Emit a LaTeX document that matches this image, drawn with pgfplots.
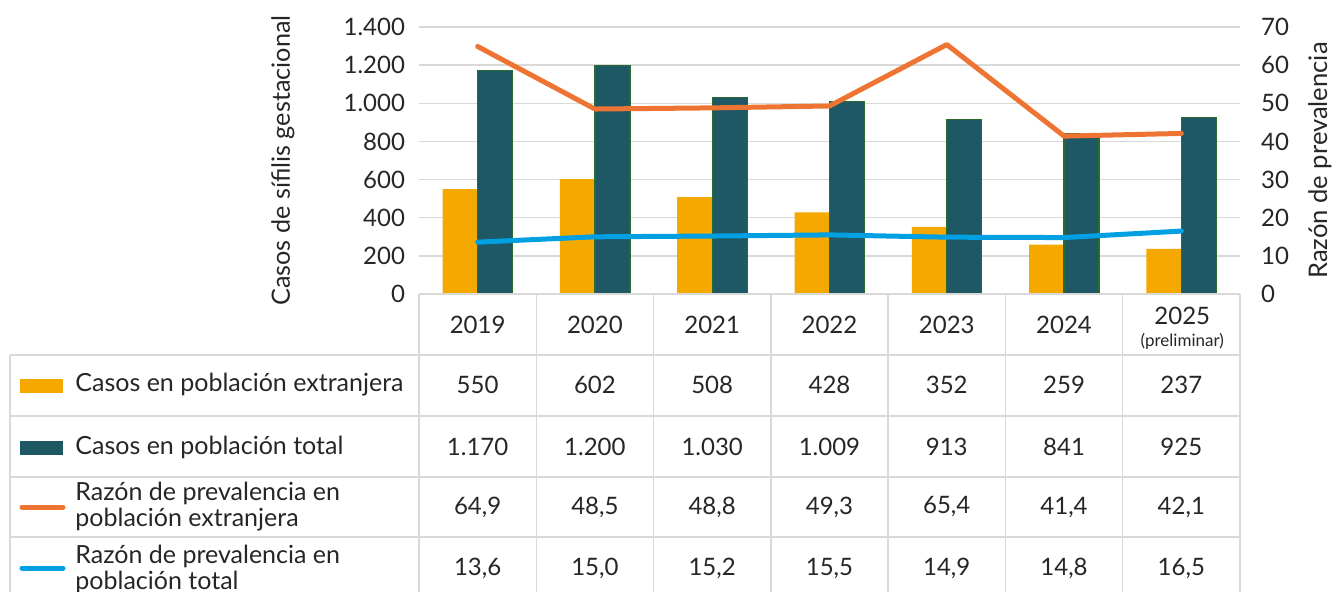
\documentclass[border=0pt]{standalone}
\usepackage{pgfplots}
\pgfplotsset{compat=1.18}
\usepackage{fontspec}
\setmainfont{Lato}
\definecolor{cOr}{HTML}{F5A800}
\definecolor{cTeal}{HTML}{1E5865}
\definecolor{cTealB}{HTML}{2D6A2E}
\definecolor{cLOr}{HTML}{EE7434}
\definecolor{cLBl}{HTML}{00A0E2}
\definecolor{cGrid}{HTML}{D9D9D9}
\definecolor{cTxt}{HTML}{262626}
\begin{document}
\begin{tikzpicture}[font=\fontsize{12}{13}\selectfont]
\path[use as bounding box] (0,0) rectangle (666pt,-295.5pt);
\begin{axis}[at={(209.5pt,-147pt)}, anchor=south west, scale only axis,
  width=410.5pt, height=133.5pt, xmin=-0.5, xmax=6.5, ymin=0, ymax=1400,
  xtick=\empty, ytick={0,200,...,1400},
  yticklabels={0,200,400,600,800,1.000,1.200,1.400},
  ymajorgrids, grid style={cGrid, line width=0.75pt},
  axis line style={draw=none}, major tick length=0pt,
  yticklabel style={font=\fontsize{12}{13}\selectfont, text=cTxt, xshift=-3.5pt},
  ylabel={Casos de sífilis gestacional},
  ylabel style={at={(axis description cs:-0.1657,0.5)}, anchor=center, font=\fontsize{12.6}{13}\selectfont, text=cTxt},
  clip=false]
\addplot[ybar, bar width=17.5pt, bar shift=-8.75pt, fill=cOr, draw=none]
  coordinates {(0,550) (1,602) (2,508) (3,428) (4,352) (5,259) (6,237)};
\addplot[ybar, bar width=17.5pt, bar shift=8.75pt, fill=cTeal, draw=cTealB, line width=0.6pt]
  coordinates {(0,1170) (1,1200) (2,1030) (3,1009) (4,913) (5,841) (6,925)};
\end{axis}
\begin{axis}[at={(209.5pt,-147pt)}, anchor=south west, scale only axis,
  width=410.5pt, height=133.5pt, xmin=-0.5, xmax=6.5, ymin=0, ymax=70,
  axis x line=none, axis y line*=right, y axis line style={draw=none},
  major tick length=0pt, ytick={0,10,...,70},
  yticklabels={0,10,20,30,40,50,60,70},
  yticklabel style={font=\fontsize{12}{13}\selectfont, text=cTxt, xshift=7pt},
  ylabel={Razón de prevalencia},
  ylabel style={at={(axis description cs:1.0974,0.5)}, anchor=center, font=\fontsize{12.8}{13}\selectfont, text=cTxt},
  clip=false]
\addplot[cLOr, line width=2.5pt, line cap=round, line join=round, mark=none]
  coordinates {(0,64.9) (1,48.5) (2,48.8) (3,49.3) (4,65.4) (5,41.4) (6,42.1)};
\addplot[cLBl, line width=2.5pt, line cap=round, line join=round, mark=none]
  coordinates {(0,13.6) (1,15.0) (2,15.2) (3,15.5) (4,14.9) (5,14.8) (6,16.5)};
\end{axis}
\begin{scope}[x=0.5pt,y=-0.5pt]
\draw[cGrid, line width=0.75pt] (419,294) -- (1240,294);
\foreach \k in {0,...,7} \draw[cGrid, line width=0.75pt] ({419+\k*117.286},294) -- ({419+\k*117.286},600);
\draw[cGrid, line width=0.75pt] (10,355) -- (10,600);
\foreach \y in {355,416,477,537} \draw[cGrid, line width=0.75pt] (10,\y) -- (1240,\y);
\foreach \t [count=\i from 0] in {2019,2020,2021,2022,2023,2024}
  \node[text=cTxt] at ({477.6+\i*117.286},325) {\t};
\node[text=cTxt] at (1182.3,316) {2025};
\node[text=cTxt, font=\fontsize{8.5}{9}\selectfont] at (1182.3,341) {(preliminar)};
\foreach \v [count=\i from 0] in {550,602,508,428,352,259,237}
  \node[text=cTxt] at ({477.6+\i*117.286},385) {\v};
\foreach \v [count=\i from 0] in {1.170,1.200,1.030,1.009,913,841,925}
  \node[text=cTxt] at ({477.6+\i*117.286},447) {\v};
\foreach \v [count=\i from 0] in {{64,9},{48,5},{48,8},{49,3},{65,4},{41,4},{42,1}}
  \node[text=cTxt] at ({477.6+\i*117.286},507) {\v};
\foreach \v [count=\i from 0] in {{13,6},{15,0},{15,2},{15,5},{14,9},{14,8},{16,5}}
  \node[text=cTxt] at ({477.6+\i*117.286},568) {\v};
\fill[cOr] (20,379) rectangle (63,393);
\fill[cTeal] (20,441) rectangle (63,455);
\draw[cLOr, line width=2.5pt, line cap=round] (22,507) -- (63,507);
\draw[cLBl, line width=2.5pt, line cap=round] (22,568) -- (63,568);
\begin{scope}[font=\fontsize{12.5}{13}\selectfont]
\node[text=cTxt, anchor=west, inner sep=0pt] at (75,385) {Casos en población extranjera};
\node[text=cTxt, anchor=west, inner sep=0pt] at (75,447) {Casos en población total};
\node[text=cTxt, anchor=west, inner sep=0pt, align=left] at (75,507) {Razón de prevalencia en\\población extranjera};
\node[text=cTxt, anchor=west, inner sep=0pt, align=left] at (75,569) {Razón de prevalencia en\\población total};
\end{scope}
\end{scope}
\end{tikzpicture}
\end{document}
